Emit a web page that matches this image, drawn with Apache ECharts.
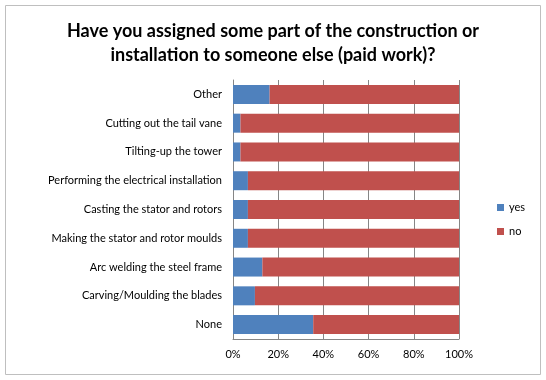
<!DOCTYPE html>
<html><head><meta charset="utf-8">
<script src="https://cdn.jsdelivr.net/npm/echarts@6/dist/echarts.min.js"></script>
<style>html,body{margin:0;padding:0;background:#fff}#c{width:546px;height:380px}</style>
</head><body><div id="c"></div>
<script>
const categories = ["None","Carving/Moulding the blades","Arc welding the steel frame","Making the stator and rotor moulds","Casting the stator and rotors","Performing the electrical installation","Tilting-up the tower","Cutting out the tail vane","Other"];
const yesValues = [35.5, 9.7, 13.0, 6.6, 6.6, 6.6, 3.3, 3.3, 16.2];
const noValues = yesValues.map(v => +(100 - v).toFixed(1));
const xTicks = [0, 20, 40, 60, 80, 100];
const titleText = "Have you assigned some part of the construction or\ninstallation to someone else (paid work)?";

const font = "Lato, 'Open Sans', sans-serif";
const chart = echarts.init(document.getElementById('c'));
chart.setOption({
  animation: false,
  title: {
    text: titleText, left: 'center', top: 14,
    textStyle: { fontFamily: font, fontSize: 18, fontWeight: 'bold', color: '#000', lineHeight: 24 }
  },
  legend: {
    orient: 'vertical', left: 492, top: 197, itemWidth: 7, itemHeight: 7, itemGap: 13,
    icon: 'rect',
    textStyle: { fontFamily: font, fontSize: 11, color: '#000' },
    data: ['yes', 'no']
  },
  grid: { left: 233, right: 87, top: 80, bottom: 41, containLabel: false },
  xAxis: {
    type: 'value', min: 0, max: 100, interval: 20,
    axisLabel: { formatter: v => xTicks.includes(v) ? v + '%' : '', fontFamily: font, fontSize: 11, color: '#000', margin: 10 },
    splitLine: { show: true, lineStyle: { color: '#868686', width: 1 } },
    axisLine: { show: true, lineStyle: { color: '#868686' } },
    axisTick: { show: false }
  },
  yAxis: {
    type: 'category', data: categories,
    axisLabel: { fontFamily: font, fontSize: 11, color: '#000', margin: 11 },
    axisLine: { show: true, lineStyle: { color: '#868686' } },
    axisTick: { show: false }
  },
  series: [
    { name: 'yes', type: 'bar', stack: 's', data: yesValues, barCategoryGap: '34%', itemStyle: { color: '#4F81BD' } },
    { name: 'no', type: 'bar', stack: 's', data: noValues, barCategoryGap: '34%', itemStyle: { color: '#C0504D' } }
  ],
  graphic: [{ type: 'rect', shape: { x: 5.5, y: 5.5, width: 535, height: 369 }, style: { fill: 'none', stroke: '#BFBFBF', lineWidth: 1 }, z: -1 }]
});
</script></body></html>
